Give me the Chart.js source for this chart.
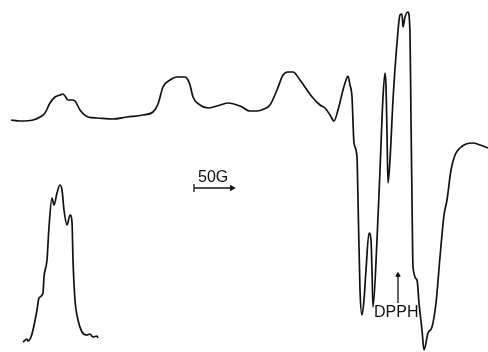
<!DOCTYPE html>
<html>
<head>
<meta charset="utf-8">
<script src="https://cdn.jsdelivr.net/npm/chart.js@4"></script>
<style>
  html, body { margin: 0; padding: 0; background: #fff; }
  #wrap { width: 488px; height: 352px; position: relative; }
</style>
</head>
<body>
<div id="wrap"><canvas id="c" width="488" height="352"></canvas></div>
<script>
// Main EPR derivative spectrum: field position (arb. units) and signal (arb. units)
const mainField = [11,20,33,40,45,50,55,60,63,65,68,72,75,80,88,97,113,127,143,153,158,163,170,177,185,188,190,193,200,208,217,228,240,250,257,264,270,277,283,288,293,300,307,313,320,325,330,334,338,343,346,348,350,352,354,357,358,360,362,364,366,369,371,372,373,377,380,383,385,386,387,388,390,393,397,400,402,403,405,408,410,411,412,413,417,419,422,424,428,432,436,440,444,447,451,455,460,466,473,480,488];
const mainSignal = [232,231,232,235,239,249,255,257,258,256,252,252,251,242,235,234,233,235,237,240,248,265,272,275,275,272,267,255,247,244,246,249,246,241,241,243,247,262,277,280,280,272,262,254,247,244,237,231,242,262,272,276,267,255,209,195,152,62,37,52,82,119,112,82,45,112,182,255,279,267,219,169,192,252,309,337,338,325,335,340,319,232,152,85,72,49,22,2,19,25,49,95,137,152,182,197,204,208,209,207,204];

// Inset absorption-like peak
const insetField = [23,27,28,31,33,37,39,43,44,47,49,52,54,57,60,62,64,67,70,72,73,75,78,82,87,90,93,97,98];
const insetSignal = [10,13,11,15,22,42,54,59,75,92,125,154,147,159,167,162,142,127,137,130,92,52,32,20,17,18,15,16,14];

// Scale bar (50 G) and DPPH marker
const scaleBarField = [194, 232];
const scaleBarSignal = [164, 164];
const dpphField = [398, 398];
const dpphSignal = [49, 77];

const labels = [
  { text: '50G', x: 198, y: 170 },
  { text: 'DPPH', x: 374, y: 35 }
];

const toPts = (xs, ys) => xs.map((x, i) => ({ x, y: ys[i] }));

const textPlugin = {
  id: 'texts',
  afterDatasetsDraw(chart) {
    const { ctx, scales } = chart;
    ctx.save();
    ctx.fillStyle = '#111';
    ctx.font = '16px "Liberation Sans", Arial, sans-serif';
    ctx.textAlign = 'left';
    ctx.textBaseline = 'alphabetic';
    labels.forEach(l => {
      ctx.fillText(l.text, scales.x.getPixelForValue(l.x), scales.y.getPixelForValue(l.y));
    });
    ctx.restore();
  }
};

new Chart(document.getElementById('c'), {
  type: 'line',
  data: {
    datasets: [
      {
        data: toPts(mainField, mainSignal),
        borderColor: '#111', borderWidth: 1.7, pointRadius: 0,
        cubicInterpolationMode: 'monotone', fill: false
      },
      {
        data: toPts(insetField, insetSignal),
        borderColor: '#111', borderWidth: 1.7, pointRadius: 0,
        cubicInterpolationMode: 'monotone', fill: false
      },
      {
        data: toPts(scaleBarField, scaleBarSignal),
        borderColor: '#111', borderWidth: 1.3,
        pointStyle: ['line', 'triangle'],
        pointRotation: [90, 90],
        pointRadius: [4, 2.5],
        pointBorderColor: '#111', pointBackgroundColor: '#111', pointBorderWidth: 1.3
      },
      {
        data: toPts(dpphField, dpphSignal),
        borderColor: '#111', borderWidth: 1.3,
        pointStyle: [false, 'triangle'],
        pointRadius: [0, 2.5],
        pointBorderColor: '#111', pointBackgroundColor: '#111', pointBorderWidth: 1
      }
    ]
  },
  options: {
    responsive: false,
    animation: false,
    layout: { padding: 0, autoPadding: false },
    plugins: { legend: { display: false }, tooltip: { enabled: false } },
    scales: {
      x: { type: 'linear', min: 0, max: 488, display: false },
      y: { type: 'linear', min: 0, max: 352, display: false }
    }
  },
  plugins: [textPlugin]
});
</script>
</body>
</html>
